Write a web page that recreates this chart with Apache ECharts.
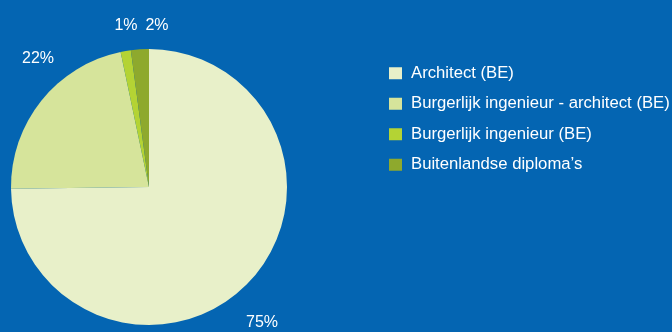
<!DOCTYPE html>
<html><head><meta charset="utf-8">
<script src="https://cdn.jsdelivr.net/npm/echarts@6/dist/echarts.min.js"></script>
<style>html,body{margin:0;padding:0;background:#0465b2;}#c{width:672px;height:332px;}</style>
</head><body><div id="c"></div>
<script>
const categories = ["Architect (BE)", "Burgerlijk ingenieur - architect (BE)", "Burgerlijk ingenieur (BE)", "Buitenlandse diploma\u2019s"];
const values = [74.8, 21.9, 1.2, 2.1];
const labels = ["75%", "22%", "1%", "2%"];
const colors = ["#e8f0c9", "#d6e49b", "#b4d334", "#8ea92d"];
const labelPos = [[262, 323], [38, 59], [126, 26], [157, 26]];

const chart = echarts.init(document.getElementById('c'));
const font = '"Liberation Sans", Arial, sans-serif';
chart.setOption({
  backgroundColor: '#0465b2',
  animation: false,
  legend: {
    orient: 'vertical', left: 389, top: 64, padding: 0,
    itemWidth: 13, itemHeight: 12, itemGap: 12,
    icon: 'rect',
    textStyle: { color: '#ffffff', fontSize: 16.7, lineHeight: 18.5, fontFamily: font, padding: [0, 0, 0, 4] },
    data: categories
  },
  series: [{
    type: 'pie',
    center: [149, 187], radius: 138,
    startAngle: 90, clockwise: true,
    label: { show: true, position: 'inside', color: '#fff', fontSize: 16, fontFamily: font,
      formatter: p => labels[p.dataIndex] },
    labelLine: { show: false },
    labelLayout: p => ({ x: labelPos[p.dataIndex][0], y: labelPos[p.dataIndex][1], align: 'center', verticalAlign: 'middle' }),
    itemStyle: { borderWidth: 0 },
    emphasis: { disabled: true },
    data: categories.map((c, i) => ({ name: c, value: values[i], itemStyle: { color: colors[i] } }))
  }]
});
</script></body></html>
